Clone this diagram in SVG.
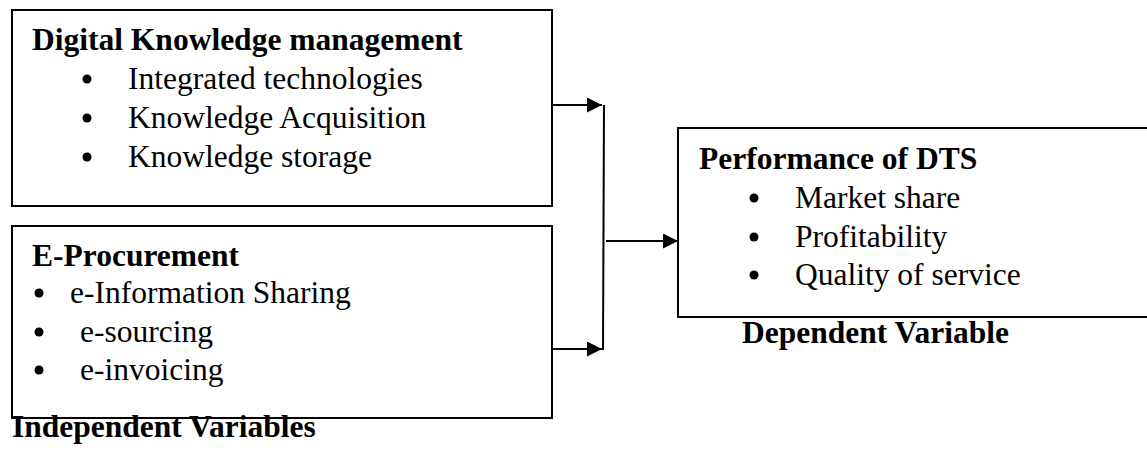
<svg xmlns="http://www.w3.org/2000/svg" width="1147" height="453" viewBox="0 0 1147 453">
  <style>
    .box { fill: #fff; stroke: #000; stroke-width: 2; }
    .title { font-family: "Liberation Serif", "Times New Roman", serif; font-weight: bold; font-size: 31.5px; fill: #000; }
    .item { font-family: "Liberation Serif", "Times New Roman", serif; font-size: 31.5px; fill: #000; }
    .dot { fill: #000; }
    .wire { fill: none; stroke: #000; stroke-width: 2; }
  </style>
  <defs>
    <marker id="head" viewBox="0 0 10 10" refX="10" refY="5" markerWidth="15" markerHeight="15" markerUnits="userSpaceOnUse" orient="auto">
      <path d="M0,0 L10,5 L0,10 z" fill="#000"/>
    </marker>
  </defs>
  <rect width="1147" height="453" fill="#fff"/>

  <g id="dkm">
    <rect class="box" x="12" y="10" width="540" height="196"/>
    <text class="title" x="32" y="50">Digital Knowledge management</text>
    <circle class="dot" cx="87" cy="79" r="4.5"/>
    <text class="item" x="128" y="89">Integrated technologies</text>
    <circle class="dot" cx="87" cy="118" r="4.5"/>
    <text class="item" x="128" y="128">Knowledge Acquisition</text>
    <circle class="dot" cx="87" cy="157" r="4.5"/>
    <text class="item" x="128" y="167">Knowledge storage</text>
  </g>

  <g id="eproc">
    <rect class="box" x="12" y="226" width="540" height="192"/>
    <text class="title" x="32" y="266">E-Procurement</text>
    <circle class="dot" cx="39" cy="293" r="4.5"/>
    <text class="item" x="70" y="303">e-Information Sharing</text>
    <circle class="dot" cx="39" cy="332" r="4.5"/>
    <text class="item" x="80" y="342">e-sourcing</text>
    <circle class="dot" cx="39" cy="370" r="4.5"/>
    <text class="item" x="80" y="380">e-invoicing</text>
    <text class="title" x="12" y="437">Independent Variables</text>
  </g>

  <g id="dts">
    <rect class="box" x="678" y="128" width="480" height="189"/>
    <text class="title" x="699" y="169">Performance of DTS</text>
    <circle class="dot" cx="754" cy="198" r="4.5"/>
    <text class="item" x="795" y="208">Market share</text>
    <circle class="dot" cx="754" cy="237" r="4.5"/>
    <text class="item" x="795" y="247">Profitability</text>
    <circle class="dot" cx="754" cy="275" r="4.5"/>
    <text class="item" x="795" y="285">Quality of service</text>
    <text class="title" x="742" y="343">Dependent Variable</text>
  </g>

  <g id="connectors">
    <line class="wire" x1="552" y1="105" x2="602" y2="105" marker-end="url(#head)"/>
    <line class="wire" x1="552" y1="349" x2="602" y2="349" marker-end="url(#head)"/>
    <line class="wire" x1="604" y1="105" x2="603" y2="350"/>
    <line class="wire" x1="606" y1="241" x2="678" y2="241" stroke-width="1.5" marker-end="url(#head)"/>
  </g>
</svg>
